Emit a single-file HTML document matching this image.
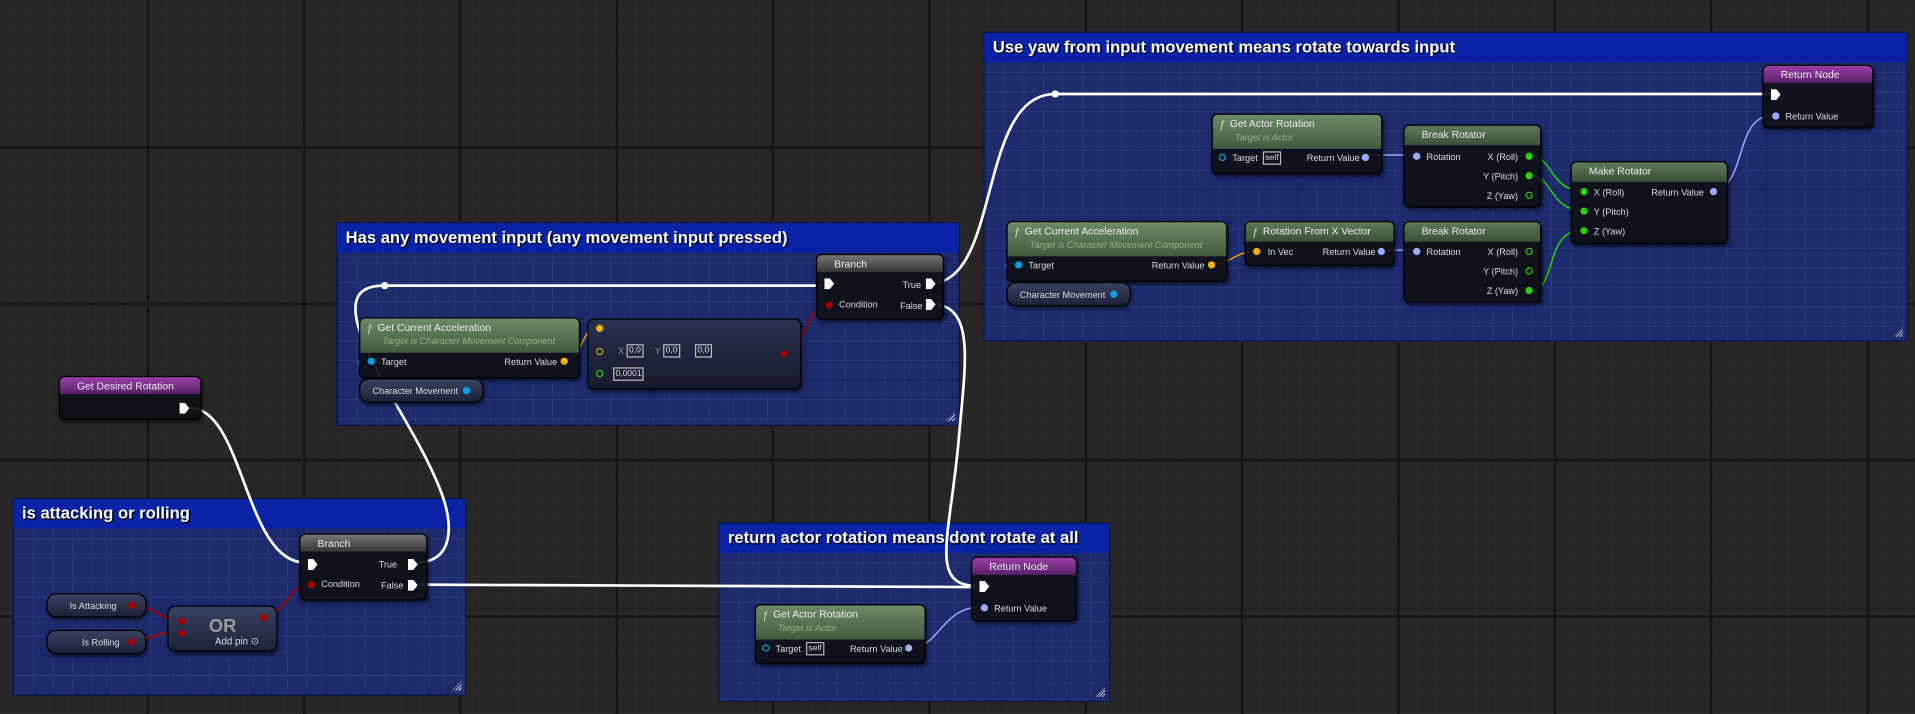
<!DOCTYPE html>
<html><head><meta charset="utf-8"><style>
html,body{margin:0;padding:0;width:1915px;height:714px;overflow:hidden;background:#262626}
#w{position:absolute;left:0;top:0;width:1568px;height:585px;transform:scale(1.22131,1.22051);transform-origin:0 0;
background-color:#262626;
background-image:linear-gradient(90deg,#151515 2px,transparent 2px),linear-gradient(#151515 2px,transparent 2px),linear-gradient(90deg,#2c2c2c 1px,transparent 1px),linear-gradient(#2c2c2c 1px,transparent 1px);
background-size:128px 128px,128px 128px,16px 16px,16px 16px;background-position:-8px -8px;
font-family:"Liberation Sans",sans-serif;color:#ddd;font-size:8px}
.c{position:absolute;background-color:#1d2a6c;
background-image:linear-gradient(90deg,#14205a 1px,transparent 1px),linear-gradient(#14205a 1px,transparent 1px),linear-gradient(90deg,#283a80 1px,transparent 1px),linear-gradient(#283a80 1px,transparent 1px);
background-size:128px 128px,128px 128px,16px 16px,16px 16px;border:1px solid #0c1640}
.c .t{position:absolute;left:0;top:0;right:0;height:24px;background:#0a22a6;color:#fff;font-weight:bold;font-size:13.6px;line-height:24px;padding-left:7px;text-shadow:1px 1px 1px #000}
.c .g{position:absolute;right:3px;bottom:3px;width:8px;height:8px;background:repeating-linear-gradient(135deg,transparent 0 1px,#ccc 1px 2px);clip-path:polygon(100% 0,100% 100%,0 100%)}
.n{position:absolute;background:rgba(14,16,22,.93);border:1px solid #000;border-radius:5px;box-shadow:1px 2px 3px rgba(0,0,0,.6);overflow:hidden}
.h{position:absolute;left:0;right:0;top:0;color:#eee;font-size:8.5px;padding-left:14px;line-height:14px}
.hg{background:linear-gradient(#6f8a68,#3f5a3e);height:28px}
.hg2{background:linear-gradient(#5f7a5a,#3a4f38);height:16px}
.hp{background:linear-gradient(#9b3fa8,#5a1f68);height:14px}
.hb{background:linear-gradient(#777,#333);height:14px}
.sub{position:absolute;left:18px;top:14px;font-style:italic;color:#9aae88;font-size:7.5px}
.l{position:absolute;font-size:7.5px;color:#ddd;white-space:nowrap}
.r{text-align:right}
.p{position:absolute;width:6px;height:6px;border-radius:50%}
.ex{position:absolute;width:8px;height:9px;background:#fff;clip-path:polygon(0 0,55% 0,100% 50%,55% 100%,0 100%)}
.var{position:absolute;border-radius:8px;background:linear-gradient(#3a4060,#1c2238);border:1px solid #000;box-shadow:1px 2px 3px rgba(0,0,0,.6)}
.box{position:absolute;border:1px solid #bbb;font-size:7px;color:#ddd;padding:0 1px;line-height:9px}
.fi{position:absolute;left:5px;top:1px;font-style:italic;color:#bde0b0;font-size:9px}
</style></head><body><div id="w">

<div class="c" style="left:275px;top:182px;width:509px;height:165px"><div class="t">Has any movement input (any movement input pressed)</div><div class="g"></div></div>
<div class="c" style="left:805px;top:26px;width:755px;height:252px"><div class="t">Use yaw from input movement means rotate towards input</div><div class="g"></div></div>
<div class="c" style="left:10px;top:408px;width:370px;height:160px"><div class="t">is attacking or rolling</div><div class="g"></div></div>
<div class="c" style="left:588px;top:428px;width:319px;height:145px"><div class="t">return actor rotation means dont rotate at all</div><div class="g"></div></div>

<svg style="position:absolute;left:0;top:0" width="1568" height="585" fill="none">
<g stroke="#fff" stroke-width="2.2">
<path d="M155 334 C200 334,200 461,250 461"/>
<path d="M340 461 C372 461,372 430,360 400 C340 350,300 300,292 262 C288 242,296 234,315 234 L673 234"/>
<path d="M762 232 C820 232,800 77,864 77 L1450 77"/>
<path d="M762 249 C800 249,790 300,785 360 C778 440,760 480,800 480"/>
<path d="M340 479 L800 481"/>
</g>
<circle cx="315" cy="234" r="3" fill="#fff"/><circle cx="864" cy="77" r="3" fill="#fff"/>
<g stroke="#9a0000" stroke-width="1.5">
<path d="M108 495 C125 495,125 505,145 508"/><path d="M108 525 C125 525,125 518,145 518"/>
<path d="M215 505 C235 505,235 478,256 478"/><path d="M641 289 C660 289,660 249,678 249"/>
</g>
<g stroke="#e8a000" stroke-width="1.3"><path d="M462 295 C478 295,475 268,490 268"/><path d="M992 216 C1010 216,1010 206,1029 206"/></g>
<g stroke="#99aaff" stroke-width="1.2"><path d="M1118 127 L1159 127"/><path d="M1117 205 L1159 205"/><path d="M1402 156 C1430 156,1420 95,1450 95"/><path d="M745 531 C770 531,770 497,805 497"/></g>
<g stroke="#2bd000" stroke-width="1.2"><path d="M1253 127 C1270 127,1270 156,1294 156"/><path d="M1253 143 C1270 143,1270 172,1294 172"/><path d="M1253 238 C1275 238,1265 189,1294 189"/></g>
<g stroke="#0aa0e0" stroke-width="1"><path d="M384 319 C395 319,390 310,300 295 C295 295,290 297,296 299"/><path d="M914 240 C925 240,920 230,830 216 C825 216,820 218,826 219"/></g>
</svg>

<div class="n" style="left:48px;top:308px;width:115px;height:34px"><div class="h hp">Get Desired Rotation</div><div class="ex" style="left:98px;top:21px"></div></div>

<div class="n" style="left:245px;top:437px;width:103px;height:53px"><div class="h hb">Branch</div>
<div class="ex" style="left:6px;top:20px"></div><div class="l" style="left:64px;top:20px">True</div><div class="ex" style="left:88px;top:20px"></div>
<div class="p" style="left:6px;top:38px;background:#a00000"></div><div class="l" style="left:17px;top:36px">Condition</div><div class="l" style="left:66px;top:37px">False</div><div class="ex" style="left:88px;top:37px"></div></div>

<div class="var" style="left:38px;top:486px;width:80px;height:18px"><div class="l" style="left:18px;top:5px">Is Attacking</div><div class="p" style="left:66px;top:6px;background:#a00000"></div></div>
<div class="var" style="left:38px;top:516px;width:80px;height:18px"><div class="l" style="left:28px;top:5px">Is Rolling</div><div class="p" style="left:66px;top:6px;background:#a00000"></div></div>
<div class="n" style="left:137px;top:496px;width:88px;height:36px;background:linear-gradient(#3a4262,#1c2238);border-radius:7px">
<div style="position:absolute;left:33px;top:8px;font-size:15px;font-weight:bold;color:#999">OR</div>
<div class="p" style="left:8px;top:9px;background:#a00000"></div><div class="p" style="left:8px;top:19px;background:#a00000"></div><div class="p" style="left:75px;top:6px;background:#a00000"></div>
<div class="l" style="left:38px;top:24px;font-size:8px">Add pin ⊙</div></div>

<div class="n" style="left:294px;top:260px;width:179px;height:48px"><div class="h hg"><span class="fi">ƒ</span>Get Current Acceleration</div><div class="sub">Target is Character Movement Component</div>
<div class="p" style="left:6px;top:32px;background:#0aa0e0"></div><div class="l" style="left:17px;top:31px">Target</div><div class="l" style="left:118px;top:31px">Return Value</div><div class="p" style="left:164px;top:32px;background:#f0b000"></div></div>
<div class="var" style="left:294px;top:310px;width:100px;height:18px"><div class="l" style="left:10px;top:5px">Character Movement</div><div class="p" style="left:84px;top:6px;background:#0aa0e0"></div></div>

<div class="n" style="left:481px;top:261px;width:173px;height:56px;background:linear-gradient(#2a3050,#161a2a)">
<div class="p" style="left:6px;top:4px;background:#f0b000"></div>
<div class="p" style="left:6px;top:23px;border:1.5px solid #d0a000;width:4px;height:4px"></div>
<div class="l" style="left:24px;top:21px;color:#888">X</div><div class="box" style="left:31px;top:20px">0,0</div>
<div class="l" style="left:54px;top:21px;color:#888">Y</div><div class="box" style="left:61px;top:20px">0,0</div>
<div class="box" style="left:87px;top:20px">0,0</div>
<div class="p" style="left:6px;top:41px;border:1.5px solid #2bd000;width:4px;height:4px"></div><div class="box" style="left:20px;top:39px">0,0001</div>
<div class="p" style="left:157px;top:25px;background:#a00000"></div></div>

<div class="n" style="left:668px;top:208px;width:103px;height:52px"><div class="h hb">Branch</div>
<div class="ex" style="left:6px;top:19px"></div><div class="l" style="left:70px;top:20px">True</div><div class="ex" style="left:89px;top:19px"></div>
<div class="p" style="left:7px;top:38px;background:#a00000"></div><div class="l" style="left:18px;top:36px">Condition</div><div class="l" style="left:68px;top:37px">False</div><div class="ex" style="left:89px;top:36px"></div></div>

<div class="n" style="left:992px;top:93px;width:138px;height:48px"><div class="h hg"><span class="fi">ƒ</span>Get Actor Rotation</div><div class="sub">Target is Actor</div>
<div class="p" style="left:5px;top:32px;border:1.5px solid #0aa0e0;width:4px;height:4px"></div><div class="l" style="left:16px;top:31px">Target</div><div class="box" style="left:41px;top:30px">self</div><div class="l" style="left:77px;top:31px">Return Value</div><div class="p" style="left:122px;top:32px;background:#99aaff"></div></div>

<div class="n" style="left:1149px;top:102px;width:111px;height:66px"><div class="h hg2">Break Rotator</div>
<div class="p" style="left:7px;top:22px;background:#99aaff"></div><div class="l" style="left:18px;top:21px">Rotation</div>
<div class="l r" style="right:18px;top:21px">X (Roll)</div><div class="p" style="right:6px;top:22px;background:#2bd000"></div>
<div class="l r" style="right:18px;top:37px">Y (Pitch)</div><div class="p" style="right:6px;top:38px;background:#2bd000"></div>
<div class="l r" style="right:18px;top:53px">Z (Yaw)</div><div class="p" style="right:6px;top:54px;border:1.5px solid #2bd000;width:4px;height:4px"></div></div>

<div class="n" style="left:1149px;top:181px;width:111px;height:65px"><div class="h hg2">Break Rotator</div>
<div class="p" style="left:7px;top:21px;background:#99aaff"></div><div class="l" style="left:18px;top:20px">Rotation</div>
<div class="l r" style="right:18px;top:20px">X (Roll)</div><div class="p" style="right:6px;top:21px;border:1.5px solid #2bd000;width:4px;height:4px"></div>
<div class="l r" style="right:18px;top:36px">Y (Pitch)</div><div class="p" style="right:6px;top:37px;border:1.5px solid #2bd000;width:4px;height:4px"></div>
<div class="l r" style="right:18px;top:52px">Z (Yaw)</div><div class="p" style="right:6px;top:53px;background:#2bd000"></div></div>

<div class="n" style="left:1286px;top:132px;width:127px;height:66px"><div class="h hg2">Make Rotator</div>
<div class="p" style="left:7px;top:21px;background:#2bd000"></div><div class="l" style="left:18px;top:20px">X (Roll)</div><div class="l" style="left:65px;top:20px">Return Value</div><div class="p" style="left:113px;top:21px;background:#99aaff"></div>
<div class="p" style="left:7px;top:37px;background:#2bd000"></div><div class="l" style="left:18px;top:36px">Y (Pitch)</div>
<div class="p" style="left:7px;top:53px;background:#2bd000"></div><div class="l" style="left:18px;top:52px">Z (Yaw)</div></div>

<div class="n" style="left:1443px;top:53px;width:89px;height:50px"><div class="h hp">Return Node</div><div class="ex" style="left:6px;top:19px"></div>
<div class="p" style="left:7px;top:38px;background:#99aaff"></div><div class="l" style="left:18px;top:37px">Return Value</div></div>

<div class="n" style="left:824px;top:181px;width:179px;height:48px"><div class="h hg"><span class="fi">ƒ</span>Get Current Acceleration</div><div class="sub">Target is Character Movement Component</div>
<div class="p" style="left:6px;top:32px;background:#0aa0e0"></div><div class="l" style="left:17px;top:31px">Target</div><div class="l" style="left:118px;top:31px">Return Value</div><div class="p" style="left:164px;top:32px;background:#f0b000"></div></div>
<div class="var" style="left:824px;top:231px;width:100px;height:18px"><div class="l" style="left:10px;top:5px">Character Movement</div><div class="p" style="left:84px;top:6px;background:#0aa0e0"></div></div>

<div class="n" style="left:1019px;top:181px;width:121px;height:35px"><div class="h hg2"><span class="fi">ƒ</span>Rotation From X Vector</div>
<div class="p" style="left:6px;top:21px;background:#f0b000"></div><div class="l" style="left:18px;top:20px">In Vec</div><div class="l" style="left:63px;top:20px">Return Value</div><div class="p" style="left:108px;top:21px;background:#99aaff"></div></div>

<div class="n" style="left:795px;top:456px;width:85px;height:51px"><div class="h hp">Return Node</div><div class="ex" style="left:6px;top:19px"></div>
<div class="p" style="left:7px;top:38px;background:#99aaff"></div><div class="l" style="left:18px;top:37px">Return Value</div></div>
<div class="n" style="left:618px;top:495px;width:138px;height:47px"><div class="h hg"><span class="fi">ƒ</span>Get Actor Rotation</div><div class="sub">Target is Actor</div>
<div class="p" style="left:5px;top:32px;border:1.5px solid #0aa0e0;width:4px;height:4px"></div><div class="l" style="left:16px;top:31px">Target</div><div class="box" style="left:41px;top:30px">self</div><div class="l" style="left:77px;top:31px">Return Value</div><div class="p" style="left:122px;top:32px;background:#99aaff"></div></div>

</div></body></html>
